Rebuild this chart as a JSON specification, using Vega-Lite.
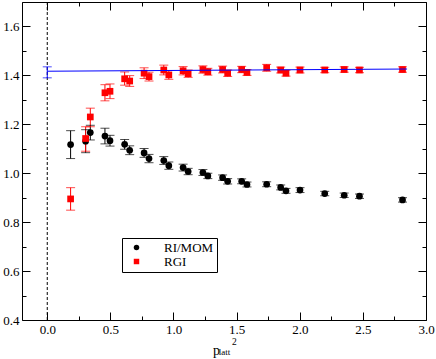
{
  "$schema": "https://vega.github.io/schema/vega-lite/v6.json",
  "width": 404,
  "height": 318,
  "autosize": "none",
  "padding": {"left": 22, "top": 2, "right": 10, "bottom": 39},
  "background": "white",
  "config": {
    "view": {"stroke": null},
    "axis": {"grid": false, "domainColor": "#000000", "tickColor": "#000000", "labelFont": "Liberation Serif", "labelFontSize": 13, "labelColor": "#000000", "titleFont": "Liberation Serif", "titleColor": "#000000", "labelFlush": false, "labelOverlap": false},
    "legend": {"labelFont": "Liberation Serif", "labelFontSize": 13, "labelColor": "#000000"}
  },
  "datasets": {
    "pts": [
      {"series": "RI/MOM", "x": 0.185, "y": 1.117, "lo": 1.060, "hi": 1.174},
      {"series": "RI/MOM", "x": 0.304, "y": 1.131, "lo": 1.084, "hi": 1.178},
      {"series": "RI/MOM", "x": 0.341, "y": 1.166, "lo": 1.136, "hi": 1.196},
      {"series": "RI/MOM", "x": 0.457, "y": 1.152, "lo": 1.120, "hi": 1.184},
      {"series": "RI/MOM", "x": 0.497, "y": 1.133, "lo": 1.111, "hi": 1.155},
      {"series": "RI/MOM", "x": 0.613, "y": 1.118, "lo": 1.098, "hi": 1.138},
      {"series": "RI/MOM", "x": 0.653, "y": 1.094, "lo": 1.076, "hi": 1.112},
      {"series": "RI/MOM", "x": 0.767, "y": 1.083, "lo": 1.065, "hi": 1.101},
      {"series": "RI/MOM", "x": 0.806, "y": 1.060, "lo": 1.043, "hi": 1.077},
      {"series": "RI/MOM", "x": 0.923, "y": 1.052, "lo": 1.036, "hi": 1.068},
      {"series": "RI/MOM", "x": 0.963, "y": 1.031, "lo": 1.016, "hi": 1.046},
      {"series": "RI/MOM", "x": 1.076, "y": 1.023, "lo": 1.009, "hi": 1.037},
      {"series": "RI/MOM", "x": 1.116, "y": 1.007, "lo": 0.994, "hi": 1.020},
      {"series": "RI/MOM", "x": 1.233, "y": 1.003, "lo": 0.991, "hi": 1.015},
      {"series": "RI/MOM", "x": 1.272, "y": 0.989, "lo": 0.978, "hi": 1.000},
      {"series": "RI/MOM", "x": 1.389, "y": 0.982, "lo": 0.971, "hi": 0.993},
      {"series": "RI/MOM", "x": 1.429, "y": 0.967, "lo": 0.956, "hi": 0.978},
      {"series": "RI/MOM", "x": 1.540, "y": 0.967, "lo": 0.957, "hi": 0.977},
      {"series": "RI/MOM", "x": 1.582, "y": 0.954, "lo": 0.944, "hi": 0.964},
      {"series": "RI/MOM", "x": 1.738, "y": 0.955, "lo": 0.945, "hi": 0.965},
      {"series": "RI/MOM", "x": 1.849, "y": 0.942, "lo": 0.932, "hi": 0.952},
      {"series": "RI/MOM", "x": 1.891, "y": 0.928, "lo": 0.918, "hi": 0.938},
      {"series": "RI/MOM", "x": 2.002, "y": 0.931, "lo": 0.921, "hi": 0.941},
      {"series": "RI/MOM", "x": 2.198, "y": 0.917, "lo": 0.908, "hi": 0.926},
      {"series": "RI/MOM", "x": 2.352, "y": 0.910, "lo": 0.901, "hi": 0.919},
      {"series": "RI/MOM", "x": 2.473, "y": 0.906, "lo": 0.897, "hi": 0.915},
      {"series": "RI/MOM", "x": 2.814, "y": 0.891, "lo": 0.882, "hi": 0.900},
      {"series": "RGI", "x": 0.185, "y": 0.895, "lo": 0.849, "hi": 0.941},
      {"series": "RGI", "x": 0.304, "y": 1.142, "lo": 1.090, "hi": 1.190},
      {"series": "RGI", "x": 0.341, "y": 1.230, "lo": 1.190, "hi": 1.266},
      {"series": "RGI", "x": 0.457, "y": 1.329, "lo": 1.296, "hi": 1.362},
      {"series": "RGI", "x": 0.497, "y": 1.335, "lo": 1.305, "hi": 1.365},
      {"series": "RGI", "x": 0.613, "y": 1.386, "lo": 1.360, "hi": 1.414},
      {"series": "RGI", "x": 0.653, "y": 1.377, "lo": 1.355, "hi": 1.399},
      {"series": "RGI", "x": 0.767, "y": 1.409, "lo": 1.387, "hi": 1.431},
      {"series": "RGI", "x": 0.806, "y": 1.395, "lo": 1.377, "hi": 1.413},
      {"series": "RGI", "x": 0.923, "y": 1.422, "lo": 1.402, "hi": 1.442},
      {"series": "RGI", "x": 0.963, "y": 1.402, "lo": 1.384, "hi": 1.420},
      {"series": "RGI", "x": 1.076, "y": 1.419, "lo": 1.402, "hi": 1.436},
      {"series": "RGI", "x": 1.116, "y": 1.407, "lo": 1.392, "hi": 1.422},
      {"series": "RGI", "x": 1.233, "y": 1.424, "lo": 1.409, "hi": 1.439},
      {"series": "RGI", "x": 1.272, "y": 1.415, "lo": 1.401, "hi": 1.429},
      {"series": "RGI", "x": 1.389, "y": 1.424, "lo": 1.410, "hi": 1.438},
      {"series": "RGI", "x": 1.429, "y": 1.409, "lo": 1.396, "hi": 1.422},
      {"series": "RGI", "x": 1.540, "y": 1.424, "lo": 1.411, "hi": 1.437},
      {"series": "RGI", "x": 1.582, "y": 1.412, "lo": 1.400, "hi": 1.424},
      {"series": "RGI", "x": 1.738, "y": 1.431, "lo": 1.417, "hi": 1.445},
      {"series": "RGI", "x": 1.849, "y": 1.422, "lo": 1.410, "hi": 1.434},
      {"series": "RGI", "x": 1.891, "y": 1.409, "lo": 1.397, "hi": 1.421},
      {"series": "RGI", "x": 2.002, "y": 1.422, "lo": 1.410, "hi": 1.434},
      {"series": "RGI", "x": 2.198, "y": 1.422, "lo": 1.411, "hi": 1.433},
      {"series": "RGI", "x": 2.352, "y": 1.424, "lo": 1.413, "hi": 1.435},
      {"series": "RGI", "x": 2.473, "y": 1.422, "lo": 1.411, "hi": 1.433},
      {"series": "RGI", "x": 2.814, "y": 1.424, "lo": 1.413, "hi": 1.435}
    ],
    "fitline": [
      {"x": 0.0, "y": 1.417},
      {"x": 2.85, "y": 1.426}
    ],
    "fitpoint": [
      {"x": 0.0, "y": 1.413, "lo": 1.390, "hi": 1.435}
    ],
    "zeroline": [
      {"x": 0.0}
    ],
    "labels": [
      {"x": 1.359, "y": 0.2551, "text": "latt", "size": 9},
      {"x": 1.463, "y": 0.298, "text": "2", "size": 9.5}
    ]
  },
  "resolve": {"axis": {"x": "independent", "y": "independent"}, "scale": {"color": "independent", "shape": "independent"}, "legend": {"color": "independent", "shape": "independent"}},
  "layer": [
    {
      "data": {"name": "zeroline"},
      "mark": {"type": "rule", "strokeDash": [3, 2], "color": "#000000", "strokeWidth": 1},
      "encoding": {
        "x": {"field": "x", "type": "quantitative", "axis": null}
      }
    },
    {
      "data": {"name": "pts"},
      "mark": {"type": "rule", "strokeWidth": 1},
      "encoding": {
        "x": {"field": "x", "type": "quantitative", "axis": null},
        "y": {"field": "lo", "type": "quantitative", "axis": null},
        "y2": {"field": "hi"},
        "color": {"field": "series", "type": "nominal", "legend": null, "scale": {"domain": ["RI/MOM", "RGI"], "range": ["#000000", "#ff0000"]}}
      }
    },
    {
      "data": {"name": "pts"},
      "mark": {"type": "tick", "orient": "horizontal", "size": 9, "thickness": 1},
      "encoding": {
        "x": {"field": "x", "type": "quantitative", "axis": null},
        "y": {"field": "lo", "type": "quantitative", "axis": null},
        "color": {"field": "series", "type": "nominal", "legend": null, "scale": {"domain": ["RI/MOM", "RGI"], "range": ["#000000", "#ff0000"]}}
      }
    },
    {
      "data": {"name": "pts"},
      "mark": {"type": "tick", "orient": "horizontal", "size": 9, "thickness": 1},
      "encoding": {
        "x": {"field": "x", "type": "quantitative", "axis": null},
        "y": {"field": "hi", "type": "quantitative", "axis": null},
        "color": {"field": "series", "type": "nominal", "legend": null, "scale": {"domain": ["RI/MOM", "RGI"], "range": ["#000000", "#ff0000"]}}
      }
    },
    {
      "data": {"name": "pts"},
      "mark": {"type": "point", "filled": true, "opacity": 1, "size": 45},
      "encoding": {
        "x": {
          "field": "x", "type": "quantitative",
          "scale": {"domain": [-0.2, 3.0], "nice": false, "zero": false},
          "axis": {
            "orient": "bottom",
            "values": [0, 0.25, 0.5, 0.75, 1, 1.25, 1.5, 1.75, 2, 2.25, 2.5, 2.75, 3],
            "tickSize": {"condition": {"test": "abs(datum.value*2-round(datum.value*2))<0.001", "value": -8}, "value": -4},
            "labelExpr": "abs(datum.value*2-round(datum.value*2))<0.001 ? format(datum.value,'.1f') : ''",
            "labelPadding": 11,
            "title": "p",
            "titleFontSize": 14,
            "titleFontWeight": "normal",
            "titleX": 194,
            "titleY": 34,
            "titleAlign": "center",
            "titleBaseline": "alphabetic"
          }
        },
        "y": {
          "field": "y", "type": "quantitative",
          "scale": {"domain": [0.4, 1.7], "nice": false, "zero": false},
          "axis": {
            "orient": "left",
            "values": [0.4, 0.5, 0.6, 0.7, 0.8, 0.9, 1.0, 1.1, 1.2, 1.3, 1.4, 1.5, 1.6, 1.7],
            "tickSize": {"condition": {"test": "abs(datum.value*5-round(datum.value*5))<0.001", "value": -8}, "value": -4},
            "labelExpr": "abs(datum.value*5-round(datum.value*5))<0.001 ? format(datum.value,'.1f') : ''",
            "labelPadding": 11,
            "title": null
          }
        },
        "color": {"field": "series", "type": "nominal", "scale": {"domain": ["RI/MOM", "RGI"], "range": ["#000000", "#ff0000"]},
          "legend": {"title": null, "orient": "none", "legendX": 100, "legendY": 236, "padding": 3, "rowPadding": 0, "symbolSize": 30, "symbolOffset": 5, "labelOffset": 21, "labelFont": "Liberation Serif", "labelFontSize": 13, "labelFontWeight": "normal", "strokeColor": "#000000", "fillColor": "#ffffff", "cornerRadius": 0}},
        "shape": {"field": "series", "type": "nominal", "scale": {"domain": ["RI/MOM", "RGI"], "range": ["circle", "square"]},
          "legend": {"title": null, "orient": "none", "legendX": 100, "legendY": 236, "padding": 3, "rowPadding": 0, "symbolSize": 30, "symbolOffset": 5, "labelOffset": 21, "labelFont": "Liberation Serif", "labelFontSize": 13, "labelFontWeight": "normal", "strokeColor": "#000000", "fillColor": "#ffffff", "cornerRadius": 0}}
      }
    },
    {
      "data": {"name": "fitline"},
      "mark": {"type": "line", "color": "#0000ff", "strokeWidth": 1},
      "encoding": {
        "x": {
          "field": "x", "type": "quantitative",
          "axis": {
            "orient": "top",
            "values": [0, 0.25, 0.5, 0.75, 1, 1.25, 1.5, 1.75, 2, 2.25, 2.5, 2.75, 3],
            "tickSize": {"condition": {"test": "abs(datum.value*2-round(datum.value*2))<0.001", "value": -8}, "value": -4},
            "labels": false,
            "title": null
          }
        },
        "y": {
          "field": "y", "type": "quantitative",
          "axis": {
            "orient": "right",
            "values": [0.4, 0.5, 0.6, 0.7, 0.8, 0.9, 1.0, 1.1, 1.2, 1.3, 1.4, 1.5, 1.6, 1.7],
            "tickSize": {"condition": {"test": "abs(datum.value*5-round(datum.value*5))<0.001", "value": -8}, "value": -4},
            "labels": false,
            "title": null
          }
        }
      }
    },
    {
      "data": {"name": "fitpoint"},
      "mark": {"type": "rule", "color": "#0000ff", "strokeWidth": 1},
      "encoding": {
        "x": {"field": "x", "type": "quantitative", "axis": null},
        "y": {"field": "lo", "type": "quantitative", "axis": null},
        "y2": {"field": "hi"}
      }
    },
    {
      "data": {"name": "fitpoint"},
      "mark": {"type": "tick", "orient": "horizontal", "size": 9, "thickness": 1, "color": "#0000ff"},
      "encoding": {
        "x": {"field": "x", "type": "quantitative", "axis": null},
        "y": {"field": "lo", "type": "quantitative", "axis": null}
      }
    },
    {
      "data": {"name": "fitpoint"},
      "mark": {"type": "tick", "orient": "horizontal", "size": 9, "thickness": 1, "color": "#0000ff"},
      "encoding": {
        "x": {"field": "x", "type": "quantitative", "axis": null},
        "y": {"field": "hi", "type": "quantitative", "axis": null}
      }
    },
    {
      "data": {"name": "labels"},
      "mark": {"type": "text", "align": "left", "baseline": "alphabetic", "font": "Liberation Serif", "color": "#000000"},
      "encoding": {
        "x": {"field": "x", "type": "quantitative", "axis": null, "scale": {"domain": [-0.2, 3.0], "nice": false, "zero": false}},
        "y": {"field": "y", "type": "quantitative", "axis": null, "scale": {"domain": [0.4, 1.7], "nice": false, "zero": false}},
        "text": {"field": "text"},
        "size": {"field": "size", "type": "quantitative", "scale": null, "legend": null}
      }
    }
  ]
}
